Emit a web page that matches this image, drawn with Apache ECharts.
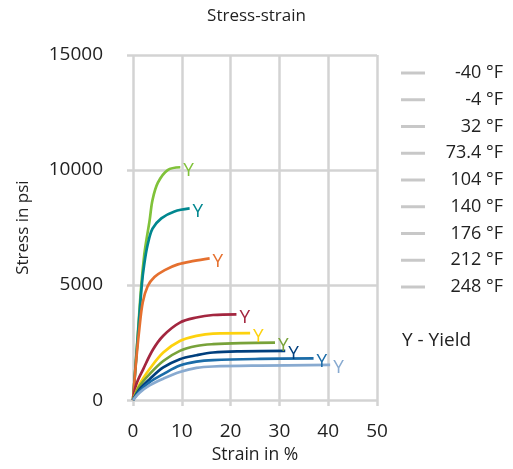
<!DOCTYPE html>
<html>
<head>
<meta charset="utf-8">
<script src="https://cdn.jsdelivr.net/npm/echarts@6/dist/echarts.min.js"></script>
<style>
  html, body { margin: 0; padding: 0; background: #fff; }
  #chart { width: 513px; height: 469px; }
</style>
</head>
<body>
<div id="chart"></div>
<script>
  // temperatures (legend order)
  const temps = ['-40 °F', '-4 °F', '32 °F', '73.4 °F', '104 °F', '140 °F', '176 °F', '212 °F', '248 °F'];

  // strain in %, stress in psi
  const strainM40 = [0, 1.0, 1.7, 2.3, 2.7, 3.4, 4.0, 5.1, 7.1, 9.7];
  const stressM40 = [0, 2900, 5000, 6300, 6900, 7800, 8700, 9450, 10000, 10120];
  const strainM4 = [0, 1.0, 1.8, 2.3, 3.0, 4.0, 5.8, 8.5, 11.6];
  const stressM4 = [0, 2800, 5000, 5900, 6750, 7450, 7900, 8200, 8330];
  const strain32 = [0, 0.6, 1.3, 2.0, 3.0, 4.4, 6.5, 9.2, 12.5, 15.7];
  const stress32 = [0, 1600, 3100, 4250, 4950, 5350, 5650, 5900, 6050, 6160];
  const strain73 = [0, 0.7, 2.1, 4.1, 6.2, 9.6, 13.0, 16.4, 21.2];
  const stress73 = [0, 700, 1350, 2200, 2800, 3370, 3590, 3700, 3730];
  const strain104 = [0, 1.4, 3.4, 6.2, 9.6, 13.0, 16.4, 24.0];
  const stress104 = [0, 700, 1350, 2070, 2570, 2790, 2890, 2910];
  const strain140 = [0, 1.4, 3.4, 6.2, 9.6, 13.0, 16.4, 22.0, 29.1];
  const stress140 = [0, 620, 1130, 1700, 2140, 2350, 2430, 2480, 2500];
  const strain176 = [0, 1.4, 3.4, 6.2, 9.6, 13.0, 16.4, 22.0, 31.2];
  const stress176 = [0, 480, 910, 1420, 1780, 1950, 2070, 2120, 2140];
  const strain212 = [0, 1.4, 3.4, 6.2, 9.6, 13.0, 16.4, 26.0, 37.0];
  const stress212 = [0, 400, 780, 1130, 1500, 1670, 1740, 1790, 1810];
  const strain248 = [0, 1.4, 3.4, 6.2, 9.6, 13.0, 16.4, 26.0, 40.4];
  const stress248 = [0, 330, 640, 930, 1220, 1400, 1460, 1500, 1530];

  const strains = [strainM40, strainM4, strain32, strain73, strain104, strain140, strain176, strain212, strain248];
  const stresses = [stressM40, stressM4, stress32, stress73, stress104, stress140, stress176, stress212, stress248];

  const colors = ['#80c23a', '#00878f', '#e5702f', '#a3263f', '#fdd20e', '#78a23a', '#003f7d', '#1b6ca8', '#88aad0'];

  const font = 'Open Sans';
  const textColor = '#222';
  const gridColor = '#d3d3d3';

  const series = temps.map(function (name, i) {
    return {
      name: name,
      type: 'line',
      data: strains[i].map(function (x, j) { return [x, stresses[i][j]]; }),
      smooth: 0.35,
      showSymbol: false,
      lineStyle: { color: colors[i], width: 2.7 },
      itemStyle: { color: colors[i] },
      endLabel: {
        show: true,
        formatter: 'Y',
        color: colors[i],
        fontFamily: font,
        fontSize: 19,
        distance: 3,
        offset: [0, 3]
      },
      emphasis: { disabled: true }
    };
  });

  const option = {
    animation: false,
    title: {
      text: 'Stress-strain',
      left: 'center',
      top: 3,
      textStyle: { fontFamily: font, fontSize: 17, fontWeight: 'normal', color: textColor }
    },
    grid: { left: 133, right: 136, top: 55, bottom: 68 },
    legend: {
      orient: 'vertical',
      left: 396,
      top: 58,
      icon: 'rect',
      itemWidth: 24,
      itemHeight: 3,
      itemGap: 6.75,
      itemStyle: { color: '#c8c8c8' },
      selectedMode: false,
      formatter: '{a|{name}}',
      textStyle: {
        fontFamily: font,
        fontSize: 18,
        color: textColor,
        lineHeight: 20,
        rich: {
          a: { fontFamily: font, fontSize: 18, color: textColor, width: 73, align: 'right', lineHeight: 20 }
        }
      },
      data: temps
    },
    xAxis: {
      type: 'value',
      min: 0,
      max: 50,
      interval: 10,
      name: 'Strain in %',
      nameLocation: 'middle',
      nameGap: 44,
      nameTextStyle: { fontFamily: font, fontSize: 17.5, color: textColor },
      axisLine: { show: false },
      axisTick: { show: true, length: 6, lineStyle: { color: gridColor, width: 2.5 } },
      axisLabel: { fontFamily: font, fontSize: 19, color: textColor, margin: 22 },
      splitLine: { show: true, lineStyle: { color: gridColor, width: 2.5 } }
    },
    yAxis: {
      type: 'value',
      min: 0,
      max: 15000,
      interval: 5000,
      name: 'Stress in psi',
      nameLocation: 'middle',
      nameGap: 101,
      nameTextStyle: { fontFamily: font, fontSize: 17, color: textColor },
      axisLine: { show: false },
      axisTick: { show: true, length: 6, lineStyle: { color: gridColor, width: 2.5 } },
      axisLabel: {
        fontFamily: font, fontSize: 19, color: textColor, margin: 30,
        formatter: function (v) { return String(v); }
      },
      splitLine: { show: true, lineStyle: { color: gridColor, width: 2.5 } }
    },
    graphic: [{
      type: 'text',
      left: 402,
      top: 331,
      style: { text: 'Y - Yield', font: '19px "Open Sans"', fill: textColor }
    }],
    series: series
  };

  const chart = echarts.init(document.getElementById('chart'));
  chart.setOption(option);
  window.addEventListener('resize', function () {
    chart.resize();
  });
</script>
</body>
</html>
